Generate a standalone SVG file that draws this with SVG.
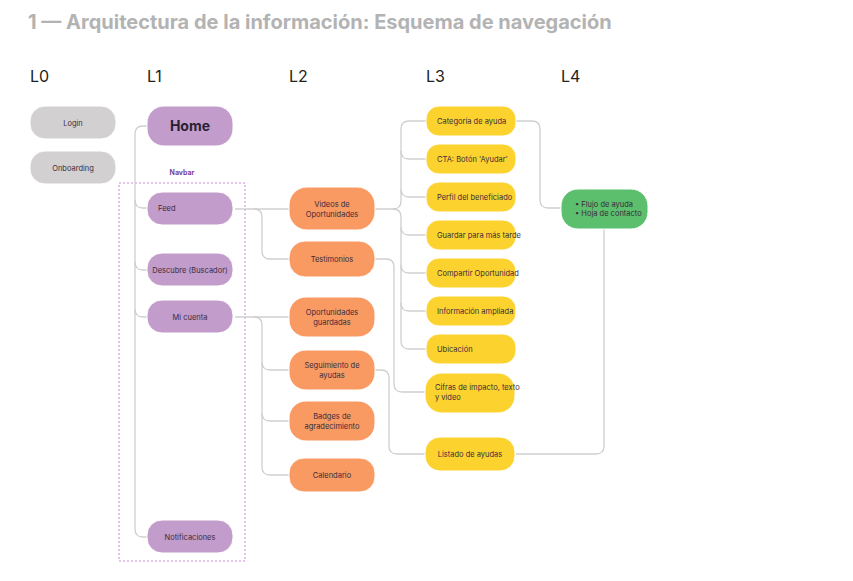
<svg xmlns="http://www.w3.org/2000/svg" width="853" height="581" viewBox="0 0 853 581">
<style>
text{font-family:Inter,"Liberation Sans",sans-serif;fill:#3b2b3b;font-size:7.5px}
.c{text-anchor:middle}
.n rect{stroke:#ffffff;stroke-width:1}
.g rect{fill:#d3d0d1}.p rect{fill:#c29ccb}.o rect{fill:#f89a62}.y rect{fill:#fcd32e}.gr rect{fill:#5bbf6e}
.l{font-size:16px;fill:#222}
#links path{fill:none;stroke:#cfcfcf;stroke-width:1.3}
</style>
<rect width="853" height="581" fill="#fff"/>
<text x="28" y="29" style="font-size:20px;font-weight:bold;fill:#b3b3b3">1 — Arquitectura de la información: Esquema de navegación</text>
<text class="l" x="30" y="82">L0</text><text class="l" x="147" y="82">L1</text><text class="l" x="289" y="82">L2</text><text class="l" x="426" y="82">L3</text><text class="l" x="561" y="82">L4</text>
<rect x="119" y="183" width="126" height="378" fill="none" stroke="#c48ad0" stroke-width="1" stroke-dasharray="2,2"/>
<text x="182" y="175" class="c" style="fill:#7a3f9a;font-weight:bold;font-size:7px">Navbar</text>
<g id="links">
<path d="M147,126 H143 Q135,126 135,134 V529 Q135,537 143,537 H147"/>
<path d="M135,200 Q135,208 143,208 H147"/>
<path d="M135,262 Q135,270 143,270 H147"/>
<path d="M135,309 Q135,317 143,317 H147"/>
<path d="M235,209 H289"/>
<path d="M254,209 Q262,209 262,217 V251 Q262,259 270,259 H289"/>
<path d="M235,317 H289"/>
<path d="M254,317 Q262,317 262,325 V467 Q262,475 270,475 H289"/>
<path d="M262,362 Q262,370 270,370 H289"/>
<path d="M262,413 Q262,421 270,421 H289"/>
<path d="M375,209 H393 Q401,209 401,201 V129 Q401,121 409,121 H426"/>
<path d="M401,151 Q401,159 409,159 H426"/>
<path d="M401,189 Q401,197 409,197 H426"/>
<path d="M393,209 Q401,209 401,217 V341 Q401,349 409,349 H426"/>
<path d="M401,227 Q401,235 409,235 H426"/>
<path d="M401,265 Q401,273 409,273 H426"/>
<path d="M401,303 Q401,311 409,311 H426"/>
<path d="M375,259 H386 Q394,259 394,267 V384 Q394,392 402,392 H426"/>
<path d="M375,370 H381 Q389,370 389,378 V446 Q389,454 397,454 H426"/>
<path d="M516,121 H532 Q540,121 540,129 V200 Q540,208 548,208 H561"/>
<path d="M516,454 H596 Q604,454 604,446 V228"/>
</g>
<g id="login" class="n g"><rect x="30" y="106" width="86" height="33" rx="15"/><text x="73" y="125.5" class="c">Login</text></g>
<g id="onboarding" class="n g"><rect x="30" y="151" width="86" height="33" rx="15"/><text x="73" y="170.5" class="c">Onboarding</text></g>
<g id="home" class="n p"><rect x="147" y="106" width="86" height="40" rx="17"/><text x="190" y="131" class="c" style="font-size:14px;font-weight:bold;fill:#2b1f33">Home</text></g>
<g id="feed" class="n p"><rect x="147" y="192" width="86" height="33" rx="15"/><text x="158" y="211">Feed</text></g>
<g id="descubre" class="n p"><rect x="147" y="253" width="86" height="33" rx="15"/><text x="190" y="272.5" class="c">Descubre (Buscador)</text></g>
<g id="micuenta" class="n p"><rect x="147" y="300" width="86" height="33" rx="15"/><text x="190" y="319.5" class="c">Mi cuenta</text></g>
<g id="notificaciones" class="n p"><rect x="147" y="520" width="86" height="33" rx="15"/><text x="190" y="539.5" class="c">Notificaciones</text></g>
<g id="videos" class="n o"><rect x="289" y="187" width="86" height="43" rx="18"/><text x="332" y="207" class="c">Videos de</text><text x="332" y="216.5" class="c">Oportunidades</text></g>
<g id="testimonios" class="n o"><rect x="289" y="241" width="86" height="36" rx="16"/><text x="332" y="261.5" class="c">Testimonios</text></g>
<g id="guardadas" class="n o"><rect x="289" y="297" width="86" height="40" rx="17"/><text x="332" y="315" class="c">Oportunidades</text><text x="332" y="324.5" class="c">guardadas</text></g>
<g id="seguimiento" class="n o"><rect x="289" y="350" width="86" height="40" rx="17"/><text x="332" y="368" class="c">Seguimiento de</text><text x="332" y="377.5" class="c">ayudas</text></g>
<g id="badges" class="n o"><rect x="289" y="401" width="86" height="40" rx="17"/><text x="332" y="419" class="c">Badges de</text><text x="332" y="428.5" class="c">agradecimiento</text></g>
<g id="calendario" class="n o"><rect x="289" y="458" width="86" height="34" rx="15"/><text x="332" y="477.5" class="c">Calendario</text></g>
<g id="categoria" class="n y"><rect x="426" y="106" width="90" height="30" rx="13"/><text x="437" y="123.5">Categoría de ayuda</text></g>
<g id="cta" class="n y"><rect x="426" y="144" width="90" height="30" rx="13"/><text x="437" y="161.5">CTA: Botón 'Ayudar'</text></g>
<g id="perfil" class="n y"><rect x="426" y="182" width="90" height="30" rx="13"/><text x="437" y="199.5">Perfil del beneficiado</text></g>
<g id="guardar" class="n y"><rect x="426" y="220" width="90" height="30" rx="13"/><text x="437" y="237.5">Guardar para más tarde</text></g>
<g id="compartir" class="n y"><rect x="426" y="258" width="90" height="30" rx="13"/><text x="437" y="275.5">Compartir Oportunidad</text></g>
<g id="info" class="n y"><rect x="426" y="296" width="90" height="30" rx="13"/><text x="437" y="313.5">Información ampliada</text></g>
<g id="ubicacion" class="n y"><rect x="426" y="334" width="90" height="30" rx="13"/><text x="437" y="351.5">Ubicación</text></g>
<g id="cifras" class="n y"><rect x="425" y="373" width="90" height="40" rx="17"/><text x="435" y="390">Cifras de impacto, texto</text><text x="435" y="399.5">y video</text></g>
<g id="listado" class="n y"><rect x="425" y="437" width="90" height="34" rx="15"/><text x="470" y="456.5" class="c">Listado de ayudas</text></g>
<g id="flujo" class="n gr"><rect x="561" y="189" width="87" height="40" rx="17"/><text x="575" y="206.5">•  Flujo de ayuda</text><text x="575" y="216">•  Hoja de contacto</text></g>
</svg>
